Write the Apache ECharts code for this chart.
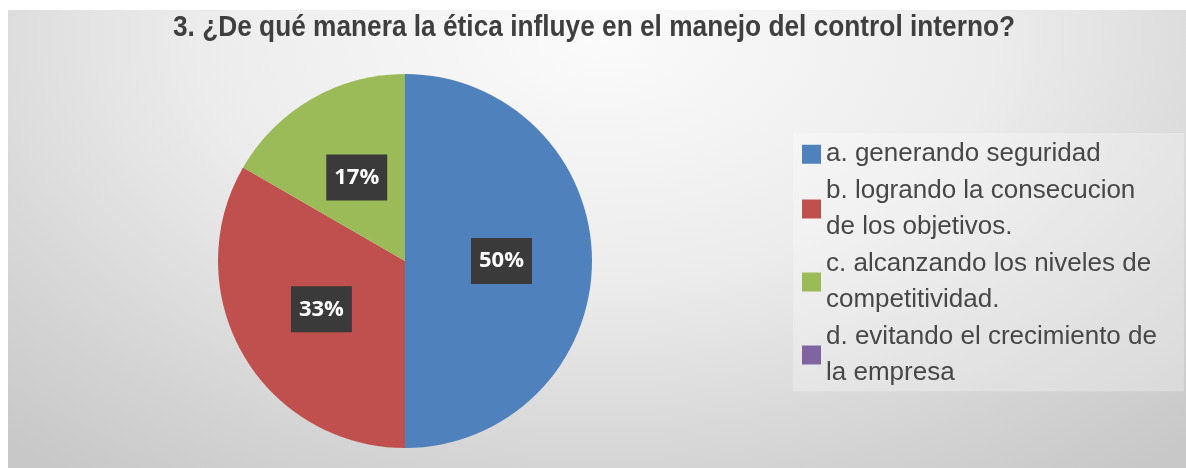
<!DOCTYPE html>
<html>
<head>
<meta charset="utf-8">
<script src="https://cdn.jsdelivr.net/npm/echarts@6/dist/echarts.min.js"></script>
<style>
html,body{margin:0;padding:0;background:#ffffff;width:1186px;height:468px;overflow:hidden;}
#chart{position:absolute;left:8px;top:10px;width:1178px;height:458px;
background:radial-gradient(ellipse 75% 120% at 50% 5%, #fbfbfb 0%, #ececec 45%, #d4d4d4 80%, #c8c8c8 100%);}
</style>
</head>
<body>
<div id="chart"></div>
<script>
const titleText = '3. ¿De qué manera la ética influye en el manejo del control interno?';
const categories = [
  'a. generando seguridad',
  'b. logrando la consecucion\nde los objetivos.',
  'c. alcanzando los niveles de\ncompetitividad.',
  'd. evitando el crecimiento de\nla empresa'
];
const values = [3, 2, 1, 0];
const colors = ['#4F81BD', '#C0504D', '#9BBB59', '#8064A2'];

// condensed title: measure natural width and squeeze to target width
const titleFont = 'bold 29px "Liberation Sans", Arial, sans-serif';
const cv = document.createElement('canvas').getContext('2d');
cv.font = titleFont;
const natW = cv.measureText(titleText).width;
const titleScaleX = Math.min(1, 842 / natW);

const chart = echarts.init(document.getElementById('chart'), null, {renderer: 'canvas'});
const data = categories.map((c, i) => ({
  name: c,
  value: values[i],
  itemStyle: {color: colors[i]},
  label: {show: values[i] > 0}
}));
chart.setOption({
  backgroundColor: 'transparent',
  animation: false,
  graphic: [{
    type: 'text',
    x: 586,
    y: 18,
    scaleX: titleScaleX,
    silent: true,
    style: {
      text: titleText,
      font: titleFont,
      fill: '#3f3f3f',
      textAlign: 'center',
      textVerticalAlign: 'middle'
    }
  }],
  legend: {
    orient: 'vertical',
    left: 785,
    top: 123,
    itemWidth: 19,
    itemHeight: 19,
    itemGap: 0,
    icon: 'rect',
    padding: [3, 27, 0, 9],
    backgroundColor: 'rgba(255,255,255,0.28)',
    data: categories,
    textStyle: {
      fontFamily: '"Liberation Sans", Arial, sans-serif',
      fontSize: 26,
      lineHeight: 36.5,
      color: '#474747'
    }
  },
  series: [{
    type: 'pie',
    center: [397, 251],
    radius: [0, 187],
    startAngle: 90,
    clockwise: true,
    avoidLabelOverlap: false,
    minAngle: 0,
    itemStyle: {borderWidth: 0},
    emphasis: {disabled: true},
    label: {
      show: true,
      position: 'inside',
      formatter: p => Math.round(p.percent) + '%',
      backgroundColor: '#3a3a3a',
      color: '#ffffff',
      fontFamily: '"Open Sans", "Noto Sans", sans-serif',
      fontWeight: 'bold',
      fontSize: 22,
      lineHeight: 22,
      padding: [12, 8]
    },
    labelLine: {show: false},
    data: data
  }]
});
</script>
</body>
</html>
